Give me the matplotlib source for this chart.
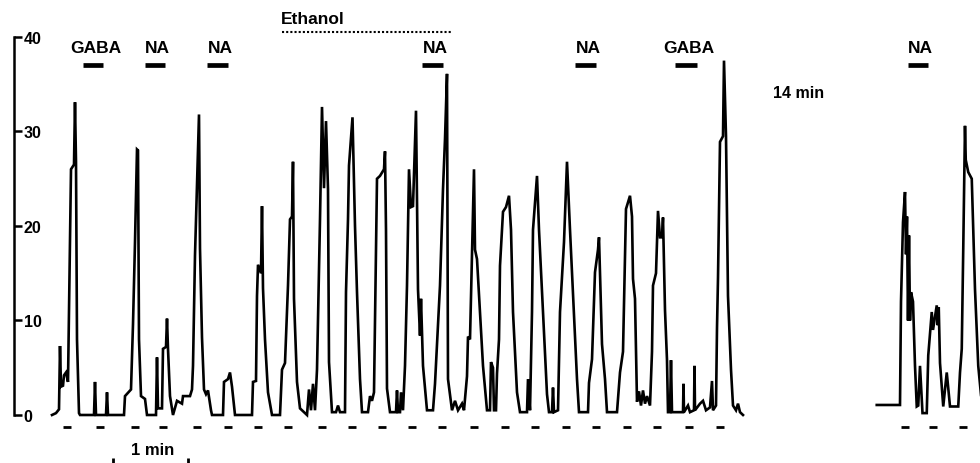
import numpy as np
import matplotlib.pyplot as plt

# recorded trace (time in s, signal in units of the y scale)
left_trace = [
    (0, 0.0), (3.2, 0.2), (5.6, 0.6), (6.4, 7.3), (7.2, 3.0), (8.8, 3.1), (9.6, 4.2),
    (11.2, 4.5), (12.8, 3.5), (14.4, 18), (15.2, 26), (17.6, 26.5), (18.4, 33.1),
    (19.2, 26.8), (20.0, 8), (21.6, 0.2), (22.4, 0),
    (33.6, 0), (34.4, 3.5), (35.2, 0), (43.2, 0), (44.0, 2.4), (44.8, 0), (57.6, 0),
    (58.4, 2), (63.2, 2.7), (64.8, 9.6), (66.4, 18.3), (68.0, 28.1), (68.8, 28.0),
    (69.6, 8), (71.2, 2), (74.4, 1.7), (76.0, 0),
    (83.2, 0), (84.0, 6.1), (84.8, 0.7), (88.0, 0.7), (88.8, 7), (91.2, 7.2), (92.0, 10.2),
    (92.8, 7), (94.4, 2), (96.8, 0), (100.0, 1.5), (104.0, 1.2), (104.8, 2.0), (110.4, 2.0),
    (112.0, 2.7), (112.8, 5.2), (114.4, 16.9), (117.6, 31.8), (118.4, 17.6), (120.0, 8.2),
    (121.6, 2.7), (123.2, 2.2), (124.8, 2.6), (127.2, 0.5), (128.0, 0),
    (136.8, 0), (137.6, 3.5), (140.8, 3.8), (142.4, 4.5), (144.0, 3), (146.4, 0),
    (160.0, 0), (160.8, 3.5), (163.2, 3.6), (164.0, 12.6), (164.8, 15.9), (167.2, 15),
    (168.0, 22.1), (168.8, 13.4), (170.4, 8), (172.8, 2.4), (176.0, 0),
    (182.4, 0), (184.0, 4.8), (186.4, 5.5), (188.8, 13.7), (190.4, 20.7), (192.0, 21),
    (192.8, 26.8), (193.6, 12.3), (196.0, 3.5), (198.4, 0.7), (204.0, 0),
    (205.6, 2.7), (207.2, 0.5), (208.8, 3.3), (210.4, 0.5), (212.0, 4.8), (214.4, 20.7),
    (216.0, 32.6), (217.6, 24), (219.2, 31.1), (220.8, 23.9), (221.6, 5.6), (224.0, 0.3),
    (227.2, 0.3), (228.8, 1), (230.4, 0.3), (234.4, 0.3), (235.2, 13), (236.8, 20.7),
    (237.6, 26.4), (240.4, 31.5), (242.4, 20), (244.0, 13), (246.4, 3.8), (248.0, 0.3),
    (252.8, 0.3), (254.4, 2), (256.0, 1.5), (257.6, 2.4), (260.0, 25), (262.4, 25.3),
    (265.6, 26), (266.4, 27.9), (267.2, 19.6), (268.0, 2.8), (270.4, 0.3),
    (275.2, 0.3), (276.0, 2.6), (276.8, 0.3), (278.4, 0.3), (279.2, 2.4), (280.8, 0.5),
    (282.4, 5.2), (284.0, 13.7), (285.6, 26), (287.2, 22), (288.8, 22.1), (291.2, 32.2),
    (292.8, 13.3), (294.4, 8.4), (295.2, 12.3), (296.8, 5.2), (300.0, 0.5),
    (304.8, 0.5), (306.4, 3.3), (310.4, 13.7), (312.8, 23.9), (314.4, 29.2), (316.0, 36.1),
    (316.8, 3.8), (320.0, 0.5), (322.4, 1.5), (324.8, 0.5), (328.0, 1.2), (329.6, 0.5),
    (332.0, 4.1), (332.8, 8.3), (334.4, 8), (336.0, 17.2), (337.6, 26), (338.4, 17.5),
    (340.0, 16.5), (342.4, 10.9), (344.8, 5.2), (348.0, 0.5),
    (350.4, 0.5), (351.2, 5.6), (352.8, 5), (353.6, 0.5), (355.2, 0.5), (356.0, 4.4),
    (357.6, 8), (358.4, 15.8), (360.8, 21.5), (363.2, 22), (365.6, 23.2), (367.2, 19.6),
    (368.8, 10.9), (372.0, 2.4), (374.4, 0.3),
    (380.0, 0.3), (380.8, 3.8), (382.4, 0.5), (384.0, 10.9), (384.8, 19.6), (388.0, 25.3),
    (389.6, 19.6), (392.8, 10.9), (396.0, 2.2), (397.6, 0.3),
    (400.0, 0.3), (400.8, 2.9), (401.6, 0.3), (404.8, 0.5), (406.4, 10.9), (409.6, 18.3),
    (412.0, 26.8), (414.4, 19.6), (416.8, 12.9), (420.0, 3.8), (421.6, 0.3),
    (428.8, 0.3), (429.6, 3.4), (432.0, 5.9), (434.4, 15.1), (436.8, 17.5), (437.6, 18.8),
    (440.0, 7.5), (442.4, 3.8), (444.0, 0.3),
    (452.0, 0.3), (454.4, 4.5), (456.8, 6.7), (459.2, 21.8), (460.8, 22.5), (462.4, 23.2),
    (464.0, 21), (464.8, 14.4), (466.4, 12.3), (468.0, 1.4), (469.6, 2.5), (471.2, 1),
    (472.8, 2.6), (474.4, 1.2), (476.0, 2), (478.4, 1),
    (480.0, 6.7), (480.8, 13.7), (483.2, 15), (484.8, 21.6), (486.4, 18.8), (488.0, 18.8),
    (488.8, 20.9), (490.4, 11.1), (492.0, 5.8), (492.8, 0.3), (494.4, 0.3), (495.2, 5.8),
    (496.0, 0.3), (504.8, 0.3), (505.2, 3.3), (505.6, 0.3), (508.8, 1), (510.4, 0.3),
    (513.6, 0.5), (514.0, 5.2), (514.4, 0.5), (518.4, 1.2), (520.8, 1.5), (523.2, 0.5),
    (526.4, 0.8), (528.0, 3.6), (528.8, 0.5), (531.2, 1),
    (532.0, 9.2), (532.8, 14.5), (534.4, 28.9), (536.8, 29.5), (537.6, 37.5), (539.2, 29.5),
    (540.8, 12.6), (543.2, 4.8), (544.8, 1), (547.2, 0.5), (548.8, 1.2), (550.4, 0.3),
    (552.8, 0),
]

# second part of the recording, 14 min later
right_trace = [
    (659.8, 1.06), (678.4, 1.06), (679.2, 12), (680.8, 20.4), (682.4, 23.6), (683.2, 17),
    (684.0, 21), (684.8, 10), (685.6, 19), (686.4, 10), (687.2, 13), (688.8, 12),
    (690.4, 5.2), (691.8, 0.9), (693.0, 1), (694.4, 5.2), (696.4, 0.2), (699.8, 0.2),
    (701.0, 6.3), (703.8, 10.9), (704.8, 9), (707.8, 11.6), (708.6, 9.5), (709.4, 11.4),
    (710.4, 5.5), (713.0, 0.9), (715.8, 4.5), (718.4, 0.9), (725.0, 0.9), (726.4, 4.5),
    (727.8, 7), (729.0, 17.6), (730.4, 30.6), (731.0, 27), (733.0, 25.7), (735.8, 25),
    (738.4, 13.3), (741.0, 5.2), (744.0, 1),
]

clock_marks = [12, 38.4, 66.4, 88.8, 116, 140.8, 164.8, 188.8, 216, 240, 264, 288, 312,
               337.6, 362.4, 386.4, 411.2, 435.2, 460, 484, 509.6, 534.4,
               682.4, 704.8, 728.8]

stim_names = ["GABA", "NA", "NA", "NA", "NA", "GABA", "NA"]
stim_start = [24.8, 74.4, 124, 296, 418.4, 498.4, 684.8]
stim_end = [40.8, 90.4, 140.8, 312.8, 435.2, 516, 700.8]
ethanol_start, ethanol_end = 184, 320
ethanol_label_t = 208.8

y_ticks = [0, 10, 20, 30, 40]

fnt = "Liberation Sans"

fig = plt.figure(figsize=(9.8, 4.64), dpi=100)
ax = fig.add_axes([0, 0, 1, 1])
ax.set_xlim(-41.6, 742.4)
ax.set_ylim(-5.08, 44.02)

for tr in (left_trace, right_trace):
    t, v = np.array(tr).T
    ax.plot(t, v, color="black", lw=1.9, solid_joinstyle="miter")

cm = np.array(clock_marks)
ax.hlines(np.full(len(cm), -1.27), cm - 3.2, cm + 3.2, color="black", lw=2)

for name, s, e in zip(stim_names, stim_start, stim_end):
    ax.hlines(37.0, s, e, color="black", lw=3.4)
    ax.text((s + e) / 2 + 2, 38.9, name, ha="center", va="center",
            fontsize=12.5, fontweight="bold", family=fnt)

ax.text(ethanol_label_t, 42.0, "Ethanol", ha="center", va="center",
        fontsize=12.5, fontweight="bold", family=fnt)
ax.plot([ethanol_start, ethanol_end], [40.5, 40.5], color="black", lw=1.5,
        ls=(0, (1, 1)))

ax.text(597.6, 34.1, "14 min", ha="center", va="center", fontsize=11.5,
        fontweight="bold", family=fnt)

# 1 min scale
ax.text(80.8, -3.6, "1 min", ha="center", va="center", fontsize=12,
        fontweight="bold", family=fnt)
ax.vlines([49, 109], -5.1, -4.6, color="black", lw=2)

for s in ["top", "bottom", "left"]:
    ax.spines[s].set_visible(False)
ax.spines["right"].set_position(("data", -30.4))
ax.spines["right"].set_bounds(0, 40)
ax.spines["right"].set_linewidth(1.8)
ax.yaxis.tick_right()
ax.set_yticks(y_ticks)
ax.tick_params(axis="y", direction="out", length=5.5, width=1.8, pad=1.5, labelsize=11.5)
for lbl in ax.get_yticklabels():
    lbl.set_fontweight("bold")
    lbl.set_family(fnt)
ax.set_xticks([])

fig.savefig("out.png", dpi=100)
